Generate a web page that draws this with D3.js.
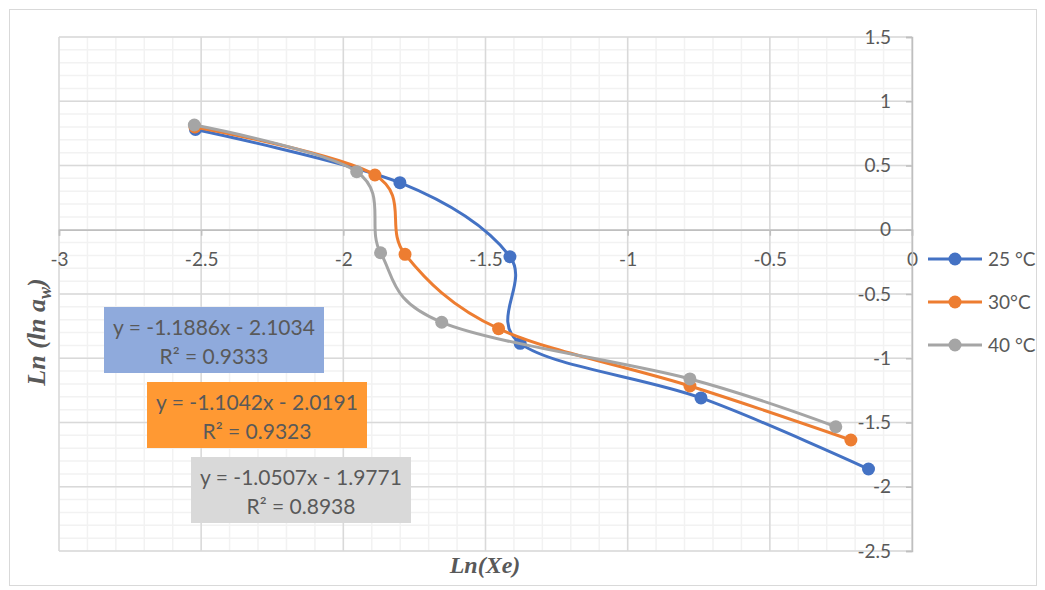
<!DOCTYPE html>
<html>
<head>
<meta charset="utf-8">
<script src="https://cdn.jsdelivr.net/npm/d3@7"></script>
<style>
  body { margin: 0; background: #fff; }
  text { font-family: Lato, "Open Sans", sans-serif; fill: #595959; }
</style>
</head>
<body>
<svg width="1045" height="590"></svg>
<script>
// data
let series = ['25 °C', '30°C', '40 °C']
let colors = ['#4472C4', '#ED7D31', '#A5A5A5']
let xs25 = [-2.52, -1.801, -1.414, -1.378, -0.742, -0.153]
let ys25 = [0.78, 0.366, -0.21, -0.884, -1.309, -1.862]
let xs30 = [-2.522, -1.889, -1.783, -1.454, -0.781, -0.215]
let ys30 = [0.80, 0.426, -0.191, -0.77, -1.216, -1.636]
let xs40 = [-2.524, -1.953, -1.869, -1.654, -0.781, -0.268]
let ys40 = [0.815, 0.452, -0.179, -0.72, -1.161, -1.533]
let xTicks = [-3, -2.5, -2, -1.5, -1, -0.5, 0]
let yTicks = [1.5, 1, 0.5, 0, -0.5, -1, -1.5, -2, -2.5]
let eqLines = [
  ['y = -1.1886x - 2.1034', 'R² = 0.9333'],
  ['y = -1.1042x - 2.0191', 'R² = 0.9323'],
  ['y = -1.0507x - 1.9771', 'R² = 0.8938']
]
let eqFill = ['#8FAADC', '#FF9933', '#D9D9D9']

let width = 1045
let height = 590
let plotLeft = 59, plotRight = 912, plotTop = 37, plotBottom = 551

let svg = d3.select('svg')

let xScale = d3.scaleLinear().domain([-3, 0]).range([plotLeft, plotRight])
let yScale = d3.scaleLinear().domain([-2.5, 1.5]).range([plotBottom, plotTop])

// chart border
svg.append('rect')
  .attr('x', 9.5).attr('y', 9.5)
  .attr('width', 1027).attr('height', 576)
  .attr('fill', 'none').attr('stroke', '#D9D9D9')

// minor grid
let minorX = d3.range(-30, 1).map(d => d / 10)
let minorY = d3.range(-25, 16).map(d => d / 10)
svg.append('g').selectAll('line').data(minorX).enter().append('line')
  .attr('x1', d => xScale(d)).attr('x2', d => xScale(d))
  .attr('y1', plotTop).attr('y2', plotBottom)
  .attr('stroke', '#F2F2F2').attr('stroke-width', 1.5)
svg.append('g').selectAll('line').data(minorY).enter().append('line')
  .attr('y1', d => yScale(d)).attr('y2', d => yScale(d))
  .attr('x1', plotLeft).attr('x2', plotRight)
  .attr('stroke', '#F2F2F2').attr('stroke-width', 1.5)

// major grid
svg.append('g').selectAll('line').data(xTicks).enter().append('line')
  .attr('x1', d => xScale(d)).attr('x2', d => xScale(d))
  .attr('y1', plotTop).attr('y2', plotBottom)
  .attr('stroke', '#D9D9D9').attr('stroke-width', 1.5)
svg.append('g').selectAll('line').data(yTicks).enter().append('line')
  .attr('y1', d => yScale(d)).attr('y2', d => yScale(d))
  .attr('x1', plotLeft).attr('x2', plotRight)
  .attr('stroke', '#D9D9D9').attr('stroke-width', 1.5)

// axes through zero (plain hyphen for minus, like the original)
let xAxis = d3.axisBottom(xScale).tickValues(xTicks).tickSize(6).tickPadding(17)
  .tickFormat(d => String(d))
let yAxis = d3.axisLeft(yScale).tickValues(yTicks).tickSize(6).tickPadding(15)
  .tickFormat(d => String(d))

let gx = svg.append('g')
  .attr('transform', 'translate(0,' + yScale(0) + ')')
  .call(xAxis)
let gy = svg.append('g')
  .attr('transform', 'translate(' + xScale(0) + ',0)')
  .call(yAxis)
;[gx, gy].forEach(g => {
  g.select('.domain').attr('stroke', '#BFBFBF').attr('stroke-width', 1.5)
  g.selectAll('.tick line').attr('stroke', '#BFBFBF').attr('stroke-width', 1.5)
  g.selectAll('.tick text').style('font-size', '19px').attr('fill', '#595959')
    .style('font-family', 'Lato, sans-serif')
})

// series
let allData = [
  xs25.map((x, i) => ({ x: x, y: ys25[i] })),
  xs30.map((x, i) => ({ x: x, y: ys30[i] })),
  xs40.map((x, i) => ({ x: x, y: ys40[i] }))
]
let line = d3.line()
  .x(d => xScale(d.x))
  .y(d => yScale(d.y))
  .curve(d3.curveCatmullRom.alpha(0))

allData.forEach((pts, i) => {
  let g = svg.append('g')
  g.append('path')
    .attr('d', line(pts))
    .attr('fill', 'none')
    .attr('stroke', colors[i])
    .attr('stroke-width', 3)
    .attr('stroke-linecap', 'round')
  g.selectAll('circle').data(pts).enter().append('circle')
    .attr('cx', d => xScale(d.x))
    .attr('cy', d => yScale(d.y))
    .attr('r', 6.5)
    .attr('fill', colors[i])
})

// trendline equation boxes
let boxes = [
  { x: 104, y: 307 },
  { x: 147, y: 382 },
  { x: 191, y: 457 }
]
boxes.forEach((b, i) => {
  let g = svg.append('g').attr('transform', 'translate(' + b.x + ',' + b.y + ')')
  g.append('rect').attr('width', 220).attr('height', 66).attr('fill', eqFill[i])
  g.append('text').attr('x', 110).attr('y', 28).attr('text-anchor', 'middle')
    .style('font-size', '21px').text(eqLines[i][0])
  g.append('text').attr('x', 110).attr('y', 57).attr('text-anchor', 'middle')
    .style('font-size', '21px').text(eqLines[i][1])
})

// legend
let legend = svg.append('g').attr('id', 'legend')
series.forEach((s, i) => {
  let y = 259 + i * 43
  legend.append('line').attr('x1', 928).attr('x2', 982)
    .attr('y1', y).attr('y2', y)
    .attr('stroke', colors[i]).attr('stroke-width', 3)
  legend.append('circle').attr('cx', 955).attr('cy', y).attr('r', 6.5)
    .attr('fill', colors[i])
  legend.append('text').attr('x', 988).attr('y', y + 7)
    .style('font-size', '19px').text(s)
})

// axis titles
svg.append('text')
  .attr('x', 485).attr('y', 573)
  .attr('text-anchor', 'middle')
  .style('font-family', '"Liberation Serif", "DejaVu Serif", serif')
  .style('font-weight', 'bold').style('font-style', 'italic')
  .style('font-size', '24px').attr('fill', '#000')
  .text('Ln(Xe)')

let yt = svg.append('text')
  .attr('transform', 'translate(45,332) rotate(-90)')
  .attr('text-anchor', 'middle')
  .style('font-family', '"Liberation Serif", "DejaVu Serif", serif')
  .style('font-weight', 'bold').style('font-style', 'italic')
  .style('font-size', '26px').attr('fill', '#000')
yt.append('tspan').text('Ln (ln a')
yt.append('tspan').attr('dy', 6).style('font-size', '18px').text('w')
yt.append('tspan').attr('dy', -6).text(')')
</script>
</body>
</html>
